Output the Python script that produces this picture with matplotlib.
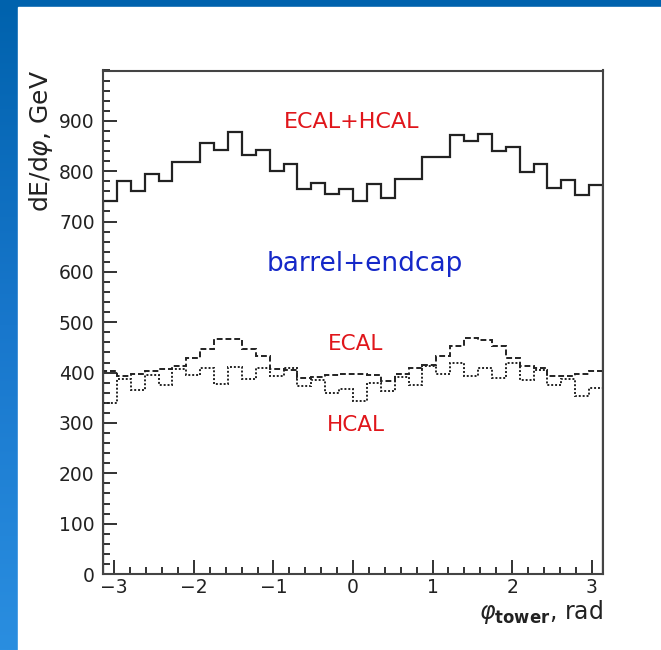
import numpy as np
import matplotlib.pyplot as plt
from matplotlib.colors import LinearSegmentedColormap
from matplotlib.patches import Rectangle
from matplotlib.ticker import MultipleLocator

# 36 phi bins of 10 degrees over [-pi, pi]
phi_edges = np.linspace(-np.pi, np.pi, 37)

total = [741, 780, 760, 795, 780, 818, 818, 856, 843, 877, 833, 843,
         801, 815, 764, 777, 755, 764, 740, 775, 746, 785, 785, 828,
         828, 871, 859, 873, 841, 849, 798, 815, 767, 782, 752, 772]
ecal = [403, 393, 397, 403, 408, 413, 429, 446, 466, 466, 446, 433,
        408, 405, 390, 392, 395, 397, 397, 395, 383, 397, 410, 416,
        433, 452, 468, 464, 452, 429, 413, 410, 393, 393, 397, 403]
hcal = [340, 387, 365, 395, 375, 408, 395, 410, 378, 411, 387, 410,
        393, 410, 374, 385, 360, 368, 343, 380, 363, 392, 376, 413,
        397, 420, 393, 410, 390, 420, 386, 405, 375, 388, 354, 369]

x_ticks = [-3, -2, -1, 0, 1, 2, 3]
y_ticks = [0, 100, 200, 300, 400, 500, 600, 700, 800, 900]

FONT = 'DejaVu Sans'
INK = '#222222'
RED = '#e0161b'
BLUE = '#1528c8'

W, H = 661, 650
fig = plt.figure(figsize=(W / 100, H / 100), dpi=100)
fig.patch.set_facecolor('#0062ad')

# slide background: blue frame with a lighter gradient strip on the left
bg = fig.add_axes([0, 0, 1, 1])
bg.set_xlim(0, W)
bg.set_ylim(H, 0)
bg.axis('off')
grad = np.linspace(0, 1, 256).reshape(-1, 1)
slide = LinearSegmentedColormap.from_list('slide', ['#0062ad', '#1877cc', '#2a8ee0'])
bg.imshow(grad, extent=[0, 18, H, 0], cmap=slide, aspect='auto', zorder=0)
bg.add_patch(Rectangle((0, 0), W, 7, color='#0062ad', zorder=1))
bg.add_patch(Rectangle((18, 7), W - 18, H - 7, color='white', zorder=2))

ax = fig.add_axes([103 / W, 1 - 574 / H, 500 / W, (574 - 70.5) / H])
ax.set_zorder(5)
ax.stairs(total, phi_edges, color=INK, lw=1.6)
ax.stairs(ecal, phi_edges, color=INK, lw=1.4, linestyle=(0, (3, 1.5)))
ax.stairs(hcal, phi_edges, color=INK, lw=1.4, linestyle=(0, (1, 1)))

ax.set_xlim(-np.pi, np.pi)
ax.set_ylim(0, 1000)
ax.set_xticks(x_ticks)
ax.set_yticks(y_ticks)
ax.xaxis.set_minor_locator(MultipleLocator(0.2))
ax.yaxis.set_minor_locator(MultipleLocator(20))
ax.tick_params(which='both', direction='in', top=False, right=False,
               width=1.3, color=INK, labelsize=13.5, labelcolor=INK)
ax.tick_params(which='major', length=10)
ax.tick_params(which='minor', length=5)
ax.tick_params(axis='y', which='major', pad=6)
ax.tick_params(axis='x', which='major', pad=3)
for lab in ax.get_xticklabels() + ax.get_yticklabels():
    lab.set_fontfamily(FONT)
for s in ax.spines.values():
    s.set_linewidth(1.5)
    s.set_color('#444444')

ax.text(-0.02, 897, 'ECAL+HCAL', color=RED, fontsize=16,
        ha='center', va='center', family=FONT)
ax.text(0.15, 615, 'barrel+endcap', color=BLUE, fontsize=19,
        ha='center', va='center', family=FONT)
ax.text(0.03, 456, 'ECAL', color=RED, fontsize=15.5,
        ha='center', va='center', family=FONT)
ax.text(0.03, 296, 'HCAL', color=RED, fontsize=15.5,
        ha='center', va='center', family=FONT)

fig.text(41 / W, 1 - 70 / H, r'dE/d$\varphi$, GeV', rotation=90, fontsize=18,
         ha='center', va='top', color=INK, family=FONT)
fig.text(603 / W, 1 - 598 / H, r'$\varphi_{\mathbf{tower}}$, rad', fontsize=17,
         ha='right', va='top', color=INK, family=FONT)

fig.savefig('out.png', dpi=100)
